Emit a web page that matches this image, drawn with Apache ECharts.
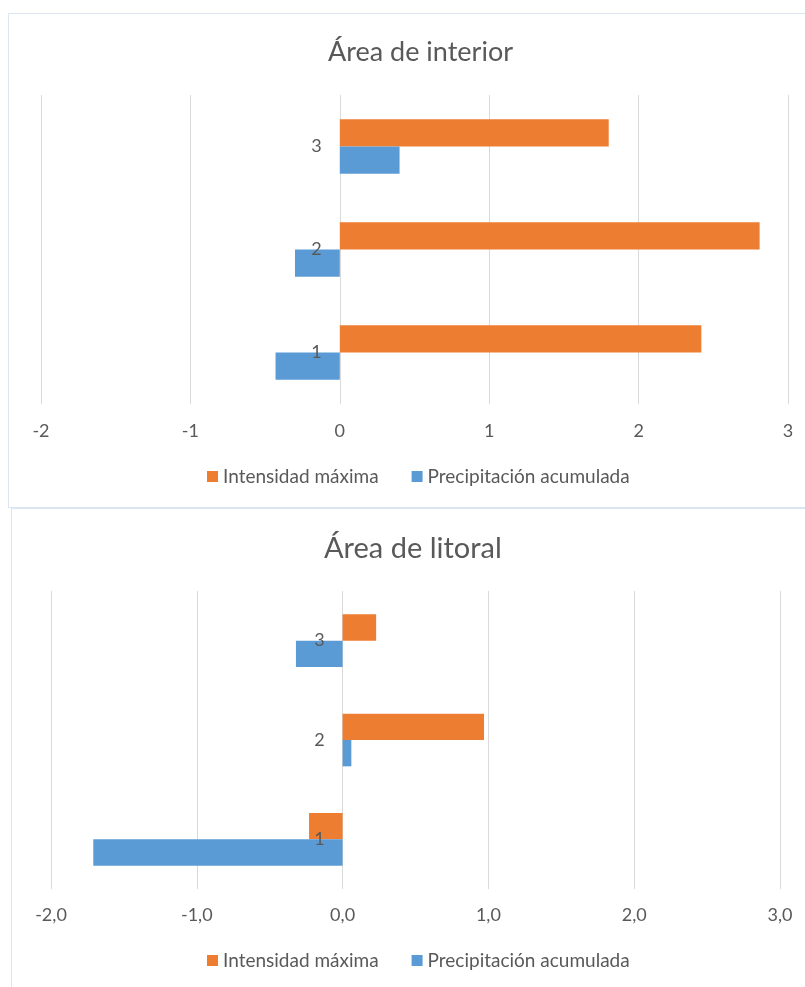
<!DOCTYPE html>
<html>
<head>
<meta charset="utf-8">
<script src="https://cdn.jsdelivr.net/npm/echarts@6/dist/echarts.min.js"></script>
<style>
  html, body { margin: 0; padding: 0; background: #fff; width: 805px; height: 987px; overflow: hidden; }
  .box { position: absolute; border: 1px solid #dce6f2; background: #fff; }
  #top { left: 8px; top: 13px; width: 820px; height: 493px; }
  #bottom { left: 11px; top: 508px; width: 820px; height: 500px; }
</style>
</head>
<body>
<div id="top" class="box"></div>
<div id="bottom" class="box"></div>
<script>
// categorias (de abajo a arriba)
const categories = ['1', '2', '3']
const legendNames = ['Intensidad máxima', 'Precipitación acumulada']

// Área de interior
const interiorIntensidad = [2.42, 2.81, 1.80]
const interiorPrecipitacion = [-0.43, -0.30, 0.40]

// Área de litoral
const litoralIntensidad = [-0.23, 0.97, 0.23]
const litoralPrecipitacion = [-1.71, 0.06, -0.32]

const xMin = -2
const xMax = 3

const textColor = '#595959'
const fontFamily = 'Lato, "Liberation Sans", sans-serif'

function buildOption(cfg) {
  // eje de categorias junto al 0 (como en Excel)
  const zeroOffset = -cfg.grid.width * (0 - xMin) / (xMax - xMin)
  return {
    backgroundColor: 'transparent',
    animation: false,
    title: {
      text: cfg.title,
      left: cfg.titleLeft,
      top: cfg.titleTop,
      textStyle: {
        color: textColor,
        fontSize: cfg.titleSize,
        fontWeight: 'normal',
        fontFamily: fontFamily
      }
    },
    legend: {
      data: legendNames,
      top: cfg.legendTop,
      left: cfg.legendLeft,
      icon: 'rect',
      itemWidth: 11,
      itemHeight: 11,
      itemGap: 33,
      textStyle: {
        color: textColor,
        fontSize: 19,
        fontFamily: fontFamily
      }
    },
    grid: {
      left: cfg.grid.left,
      top: cfg.grid.top,
      width: cfg.grid.width,
      height: cfg.grid.height,
      containLabel: false
    },
    xAxis: {
      type: 'value',
      min: xMin,
      max: xMax,
      interval: 1,
      axisLine: { show: false },
      axisTick: { show: false },
      splitLine: {
        show: true,
        lineStyle: { color: '#d9d9d9', width: 1 }
      },
      axisLabel: {
        margin: cfg.xLabelMargin,
        color: textColor,
        fontSize: 18,
        fontFamily: fontFamily,
        formatter: cfg.xFormatter
      }
    },
    yAxis: {
      type: 'category',
      data: categories,
      offset: zeroOffset,
      z: 10, // etiquetas por encima de las barras
      axisLine: { show: false, onZero: false },
      axisTick: { show: false },
      axisLabel: {
        margin: 18,
        color: textColor,
        fontSize: 18,
        fontFamily: fontFamily
      }
    },
    series: [
      {
        name: legendNames[0],
        type: 'bar',
        data: cfg.intensidad,
        barGap: '0%',
        barCategoryGap: '47%',
        itemStyle: { color: '#ED7D31' }
      },
      {
        name: legendNames[1],
        type: 'bar',
        data: cfg.precipitacion,
        barGap: '0%',
        barCategoryGap: '47%',
        itemStyle: { color: '#5B9BD5' }
      }
    ]
  }
}

const topChart = echarts.init(document.getElementById('top'))
topChart.setOption(buildOption({
  title: 'Área de interior',
  titleLeft: 314,
  titleTop: 20,
  titleSize: 27,
  legendTop: 448,
  legendLeft: 193,
  grid: { left: 32, top: 81, width: 747, height: 309 },
  xLabelMargin: 18,
  xFormatter: function(v) { return String(v) },
  intensidad: interiorIntensidad,
  precipitacion: interiorPrecipitacion
}))

const bottomChart = echarts.init(document.getElementById('bottom'))
bottomChart.setOption(buildOption({
  title: 'Área de litoral',
  titleLeft: 307,
  titleTop: 20,
  titleSize: 29,
  legendTop: 437,
  legendLeft: 190,
  grid: { left: 39, top: 82, width: 729, height: 298 },
  xLabelMargin: 17,
  xFormatter: function(v) { return v.toFixed(1).replace('.', ',') },
  intensidad: litoralIntensidad,
  precipitacion: litoralPrecipitacion
}))
</script>
</body>
</html>
